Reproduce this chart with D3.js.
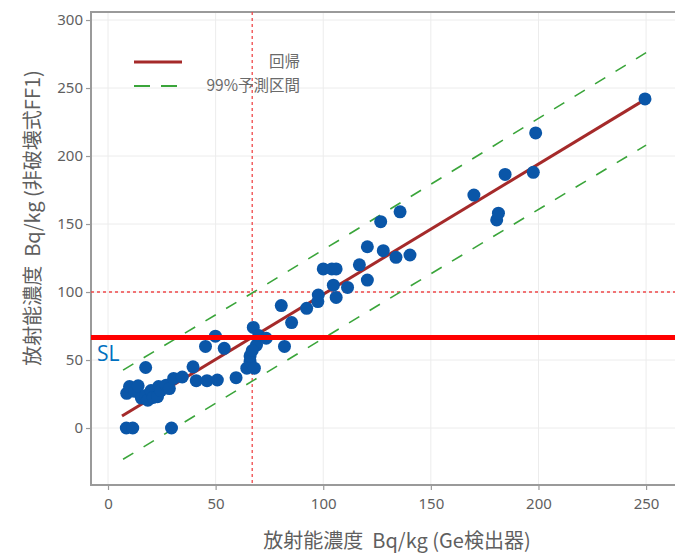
<!DOCTYPE html>
<html><head><meta charset="utf-8">
<script src="https://cdn.jsdelivr.net/npm/d3@7"></script>
<style>
html,body{margin:0;padding:0;background:#fff;}
svg{display:block;font-family:"Noto Sans CJK JP","Noto Sans",sans-serif;}
.pre{white-space:pre;}
</style></head>
<body>
<svg id="c" width="675" height="555"></svg>
<script>
// ---- data ----
const geX = [8.5, 11.5, 29.5,
  8.7, 10, 12.5, 14, 15.5, 17.5, 18.5, 20, 21, 23, 23.5, 24.5, 27, 28.5,
  17.5, 30.5, 34.5, 39.5, 41, 46, 50.8, 59.5,
  45.3, 49.9, 54,
  64.5, 66, 66, 67.5, 68, 69, 70, 73.5, 67,
  80.5, 82, 85.3, 92.3, 97.5, 97.7, 100, 104, 106, 104.7, 106, 111.3,
  116.8, 120.5, 120.5, 126.7, 127.9, 133.8, 135.7, 140.3,
  170, 180.6, 181.4, 184.5, 197.6, 198.7, 249.5];
const ffY = [0, 0, 0,
  25.5, 30.5, 27, 31, 22, 24, 20.5, 27.5, 22.5, 23, 30.5, 27.5, 31.5, 29,
  44.5, 36.5, 37.5, 45, 34.8, 34.8, 35.3, 37,
  60, 67.5, 58.6,
  44, 49, 53, 74, 44, 61, 68, 66, 57,
  90, 60, 77.5, 88, 93, 97.8, 117, 117, 117, 105, 96, 103.4,
  120, 108.8, 133.3, 151.7, 130.4, 125.5, 159, 127.2,
  171.3, 153, 158, 186.5, 188, 217, 242];
const regX = [6.5, 250];
const regY = [8.8, 242];
const bandX = [7, 67, 130, 250];
const bandUpper = [42.6, 99.3, 159.9, 276];
const bandLower = [-23, 34.5, 94.5, 208];
const xTicks = [0, 50, 100, 150, 200, 250];
const yTicks = [0, 50, 100, 150, 200, 250, 300];
const refX = 67;      // vertical dotted line
const refY = 100;     // horizontal dotted line
const slY = 66.5;     // SL line
const xTitle = "放射能濃度  Bq/kg (Ge検出器)";
const yTitle = "放射能濃度  Bq/kg (非破壊式FF1)";
const legendLabels = ["回帰", "99%予測区間"];

// ---- layout ----
const L = 91, R = 676, T = 12, B = 485;
const svg = d3.select("#c");
const x = d3.scaleLinear().domain([-7.9, 263.9]).range([L, R]);
const y = d3.scaleLinear().domain([-41.9, 305.9]).range([B, T]);
const grey = "#5f5f5f";

// gridlines
svg.append("g").selectAll("line").data(xTicks).join("line")
  .attr("x1", d => x(d)).attr("x2", d => x(d)).attr("y1", T).attr("y2", B)
  .attr("stroke", "#ececec").attr("stroke-width", 1);
svg.append("g").selectAll("line").data(yTicks).join("line")
  .attr("x1", L).attr("x2", R).attr("y1", d => y(d)).attr("y2", d => y(d))
  .attr("stroke", "#ececec").attr("stroke-width", 1);

// frame
svg.append("rect").attr("x", L).attr("y", T).attr("width", R - L + 5).attr("height", B - T)
  .attr("fill", "none").attr("stroke", "#9a9a9a").attr("stroke-width", 2);

// axes
const xAxis = svg.append("g").attr("transform", `translate(0,${B})`)
  .call(d3.axisBottom(x).tickValues(xTicks).tickSize(5).tickPadding(8));
const yAxis = svg.append("g").attr("transform", `translate(${L},0)`)
  .call(d3.axisLeft(y).tickValues(yTicks).tickSize(5).tickPadding(3));
[xAxis, yAxis].forEach(g => {
  g.select(".domain").remove();
  g.selectAll(".tick line").attr("stroke", "#9a9a9a").attr("stroke-width", 1.2);
  g.selectAll(".tick text").attr("fill", grey).style("font-size", "15px")
    .style("font-family", "'Noto Sans','Open Sans',sans-serif");
});

// reference dotted lines
svg.append("line").attr("x1", x(refX)).attr("x2", x(refX)).attr("y1", T).attr("y2", B)
  .attr("stroke", "#f0484a").attr("stroke-width", 1.3).attr("stroke-dasharray", "3,3");
svg.append("line").attr("x1", L).attr("x2", R).attr("y1", y(refY)).attr("y2", y(refY))
  .attr("stroke", "#f0484a").attr("stroke-width", 1.3).attr("stroke-dasharray", "3,3");

// prediction bands
const line = d3.line().x(d => x(d[0])).y(d => y(d[1]));
[bandUpper, bandLower].forEach(arr => {
  svg.append("path").datum(bandX.map((v, i) => [v, arr[i]])).attr("d", line)
    .attr("fill", "none").attr("stroke", "#3aa53a").attr("stroke-width", 1.6)
    .attr("stroke-dasharray", "12,12");
});

// regression line
svg.append("path").datum(regX.map((v, i) => [v, regY[i]])).attr("d", line)
  .attr("fill", "none").attr("stroke", "#a52a2a").attr("stroke-width", 3);

// points
svg.append("g").selectAll("circle").data(geX.map((v, i) => [v, ffY[i]])).join("circle")
  .attr("cx", d => x(d[0])).attr("cy", d => y(d[1])).attr("r", 6.5)
  .attr("fill", "#0a56a8");

// SL line
svg.append("line").attr("x1", L).attr("x2", R).attr("y1", y(slY)).attr("y2", y(slY))
  .attr("stroke", "#ff0000").attr("stroke-width", 5);
svg.append("text").attr("x", 97).attr("y", 361).text("SL")
  .attr("fill", "#0070c0").style("font-size", "21px")
  .style("font-family", "'Open Sans','Noto Sans',sans-serif");

// legend
svg.append("line").attr("x1", 134).attr("x2", 182).attr("y1", 62).attr("y2", 62)
  .attr("stroke", "#a52a2a").attr("stroke-width", 3);
svg.append("line").attr("x1", 134).attr("x2", 182).attr("y1", 86).attr("y2", 86)
  .attr("stroke", "#3aa53a").attr("stroke-width", 2).attr("stroke-dasharray", "16,11");
legendLabels.forEach((t, i) => {
  svg.append("text").attr("x", 300).attr("y", 62 + i * 24).attr("dy", "0.35em")
    .attr("text-anchor", "end").attr("fill", "#6a6a6a").style("font-size", "15.5px").text(t);
});

// axis titles
svg.append("text").attr("class", "pre").attr("x", 397).attr("y", 541).attr("dy", "0.35em")
  .attr("text-anchor", "middle").attr("fill", grey).style("font-size", "20px").text(xTitle);
svg.append("text").attr("class", "pre").attr("transform", `translate(33,218) rotate(-90)`)
  .attr("dy", "0.35em").attr("text-anchor", "middle").attr("fill", grey)
  .style("font-size", "20px").text(yTitle);
</script>
</body></html>
